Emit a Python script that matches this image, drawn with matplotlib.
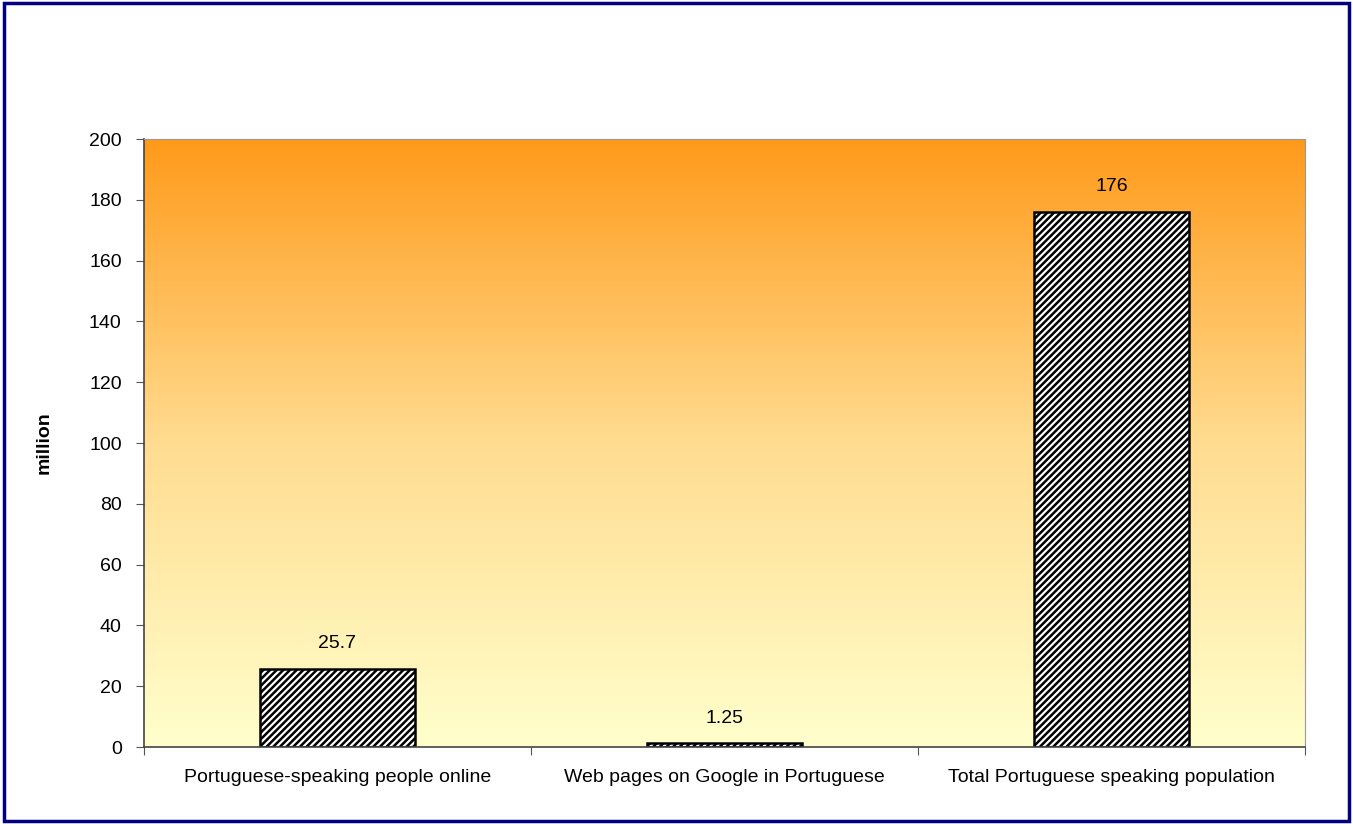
import numpy as np
import matplotlib
matplotlib.use("Agg")
import matplotlib.pyplot as plt
from matplotlib.colors import LinearSegmentedColormap
from matplotlib.patches import Rectangle

categories = ["Portuguese-speaking people online",
              "Web pages on Google in Portuguese",
              "Total Portuguese speaking population"]
values = [25.7, 1.25, 176]
labels = ["25.7", "1.25", "176"]

plt.rcParams['font.family'] = ['Liberation Sans', 'DejaVu Sans']
plt.rcParams['hatch.linewidth'] = 1.8

fig = plt.figure(figsize=(13.53, 8.24), dpi=100)
ax = fig.add_axes([0.1064, 0.0934, 0.8581, 0.7379])

# background gradient, orange at top to pale yellow at bottom
cmap = LinearSegmentedColormap.from_list("bg", ["#FFFFCC", "#FFDC90", "#FF9A1A"])
grad = np.linspace(0, 1, 256).reshape(-1, 1)
ax.imshow(grad, aspect='auto', cmap=cmap, origin='lower',
          extent=[-0.5, 2.5, 0, 200], zorder=0)

x = np.arange(len(categories))
ax.bar(x, values, width=0.40, facecolor='white', edgecolor='black',
       hatch='/////', linewidth=1.8, zorder=2)
for xi, v, lab in zip(x, values, labels):
    ax.text(xi, v + 5.5, lab, ha='center', va='bottom', fontsize=14)

ax.set_xlim(-0.5, 2.5)
ax.set_ylim(0, 200)
ax.set_yticks(range(0, 201, 20))
ax.set_xticks([-0.5, 0.5, 1.5, 2.5], minor=False)
ax.set_xticklabels([])
ax.set_xticks(x, minor=True)
ax.set_xticklabels(categories, minor=True)
ax.tick_params(axis='x', which='minor', length=0, pad=16, labelsize=14)
ax.tick_params(axis='x', which='major', length=6, direction='out', color='#555555')
ax.tick_params(axis='y', length=6, direction='out', labelsize=14, pad=10, color='#555555')
ax.set_ylabel("million", fontsize=14, fontweight='bold', labelpad=26)

for side in ['top', 'right']:
    ax.spines[side].set_color('#999999')
for side in ['left', 'bottom']:
    ax.spines[side].set_color('#444444')
    ax.spines[side].set_linewidth(1.2)

fig.patches.append(Rectangle((0.003, 0.004), 0.994, 0.992, transform=fig.transFigure,
                             fill=False, edgecolor='#000080', linewidth=2.5))

fig.savefig("out.png", dpi=100, facecolor='white')
